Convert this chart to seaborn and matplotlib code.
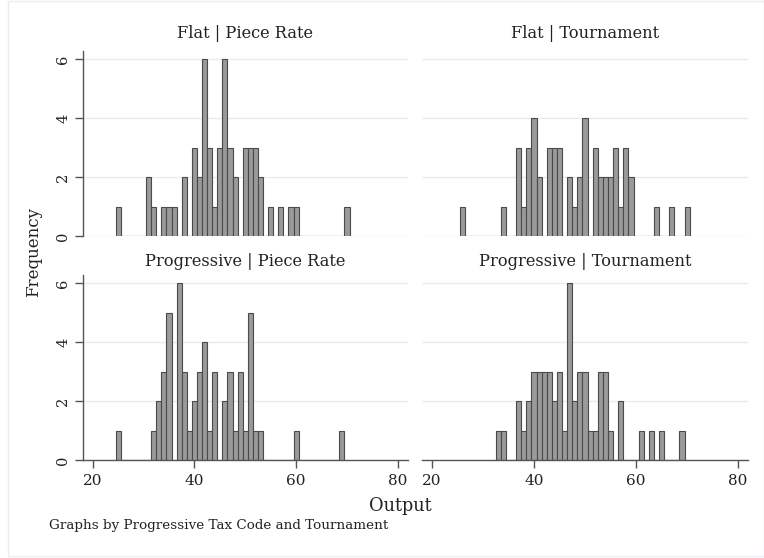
import matplotlib
matplotlib.use("Agg")
import matplotlib.pyplot as plt
import seaborn as sns
import numpy as np
from matplotlib.patches import Rectangle

# ---- data (bin centre = integer output value, count) ----
flat_piece_x = [25, 31, 32, 34, 35, 36, 38, 40, 41, 42, 43, 44, 45, 46, 47, 48, 50, 51, 52, 53, 55, 57, 59, 60, 70]
flat_piece_n = [1, 2, 1, 1, 1, 1, 2, 3, 2, 6, 3, 1, 3, 6, 3, 2, 3, 3, 3, 2, 1, 1, 1, 1, 1]

flat_tour_x = [26, 34, 37, 38, 39, 40, 41, 43, 44, 45, 47, 48, 49, 50, 52, 53, 54, 55, 56, 57, 58, 59, 64, 67, 70]
flat_tour_n = [1, 1, 3, 1, 3, 4, 2, 3, 3, 3, 2, 1, 2, 4, 3, 2, 2, 2, 3, 1, 3, 2, 1, 1, 1]

prog_piece_x = [25, 32, 33, 34, 35, 37, 38, 39, 40, 41, 42, 43, 44, 46, 47, 48, 49, 50, 51, 52, 53, 60, 69]
prog_piece_n = [1, 1, 2, 3, 5, 6, 3, 1, 2, 3, 4, 1, 3, 2, 3, 1, 3, 1, 5, 1, 1, 1, 1]

prog_tour_x = [33, 34, 37, 38, 39, 40, 41, 42, 43, 44, 45, 46, 47, 48, 49, 50, 51, 52, 53, 54, 55, 57, 61, 63, 65, 69]
prog_tour_n = [1, 1, 2, 1, 2, 3, 3, 3, 3, 2, 3, 1, 6, 2, 3, 3, 1, 1, 3, 3, 1, 2, 1, 1, 1, 1]

panel_titles = ["Flat | Piece Rate", "Flat | Tournament",
                "Progressive | Piece Rate", "Progressive | Tournament"]
x_ticks = [20, 40, 60, 80]
y_ticks = [0, 2, 4, 6]

sns.set_theme(style="white")
plt.rcParams['font.family'] = ['DejaVu Serif']

W, H = 764, 558
fig = plt.figure(figsize=(W / 100, H / 100), dpi=100)
fig.patch.set_facecolor("white")

def fx(px):
    return px / W

def fy(py):
    return 1 - py / H

lefts = [82.5, 421.8]
widths = [325.5, 326.5]
bottoms = [236.0, 460.0]
hgt = 185.5

panels = [
    (flat_piece_x, flat_piece_n),
    (flat_tour_x, flat_tour_n),
    (prog_piece_x, prog_piece_n),
    (prog_tour_x, prog_tour_n),
]

axis_col = "#555555"
grid_col = "#e6ecef"

for i, (xs, ns) in enumerate(panels):
    r, c = divmod(i, 2)
    ax = fig.add_axes([fx(lefts[c]), fy(bottoms[r]), fx(widths[c]), hgt / H])
    ax.set_facecolor("white")
    for yv in y_ticks:
        ax.axhline(yv, color=grid_col, lw=1.0, zorder=0)
    sns.histplot(x=xs, weights=ns, discrete=True, ax=ax,
                 color="#9a9a9a", edgecolor="#4a4a4a", linewidth=0.8,
                 alpha=1.0, zorder=2)
    ax.set_xlim(18, 82)
    ax.set_ylim(0, 6.3)
    ax.set_xlabel("")
    ax.set_ylabel("")
    for s in ["top", "right", "left", "bottom"]:
        ax.spines[s].set_visible(False)
    ax.grid(False)
    if c == 0:
        ax.spines["left"].set_visible(True)
        ax.spines["left"].set_color(axis_col)
        ax.spines["left"].set_linewidth(1.0)
        ax.set_yticks(y_ticks)
        ax.set_yticklabels([str(v) for v in y_ticks], rotation=90, va="center",
                           fontsize=10.5, color="#222222")
        ax.tick_params(axis="y", direction="out", length=6, width=1.0,
                       color=axis_col, pad=3, left=True)
    else:
        ax.set_yticks([])
    if r == 1:
        ax.spines["bottom"].set_visible(True)
        ax.spines["bottom"].set_color(axis_col)
        ax.spines["bottom"].set_linewidth(1.0)
        ax.set_xticks(x_ticks)
        ax.set_xticklabels([str(v) for v in x_ticks], fontsize=11, color="#222222")
        ax.tick_params(axis="x", direction="out", length=6, width=1.0,
                       color=axis_col, pad=4, bottom=True)
    else:
        ax.set_xticks([])
    cx = lefts[c] + widths[c] / 2
    ty = 33 if r == 0 else 262
    fig.text(fx(cx), fy(ty), panel_titles[i], ha="center", va="center",
             fontsize=11.7, color="#222222")

fig.text(fx(34), fy(252), "Frequency", rotation=90, ha="center", va="center",
         fontsize=12, color="#222222")
fig.text(fx(400), fy(506), "Output", ha="center", va="center",
         fontsize=12.8, color="#222222")
fig.text(fx(49), fy(526), "Graphs by Progressive Tax Code and Tournament",
         ha="left", va="center", fontsize=9.7, color="#222222")

fig.patches.append(Rectangle((fx(8), fy(556)), 1 - fx(8), fy(1) - fy(556),
                             transform=fig.transFigure, fill=False,
                             edgecolor="#e8eef1", lw=1.0))

fig.savefig("out.png", dpi=100, facecolor="white")
